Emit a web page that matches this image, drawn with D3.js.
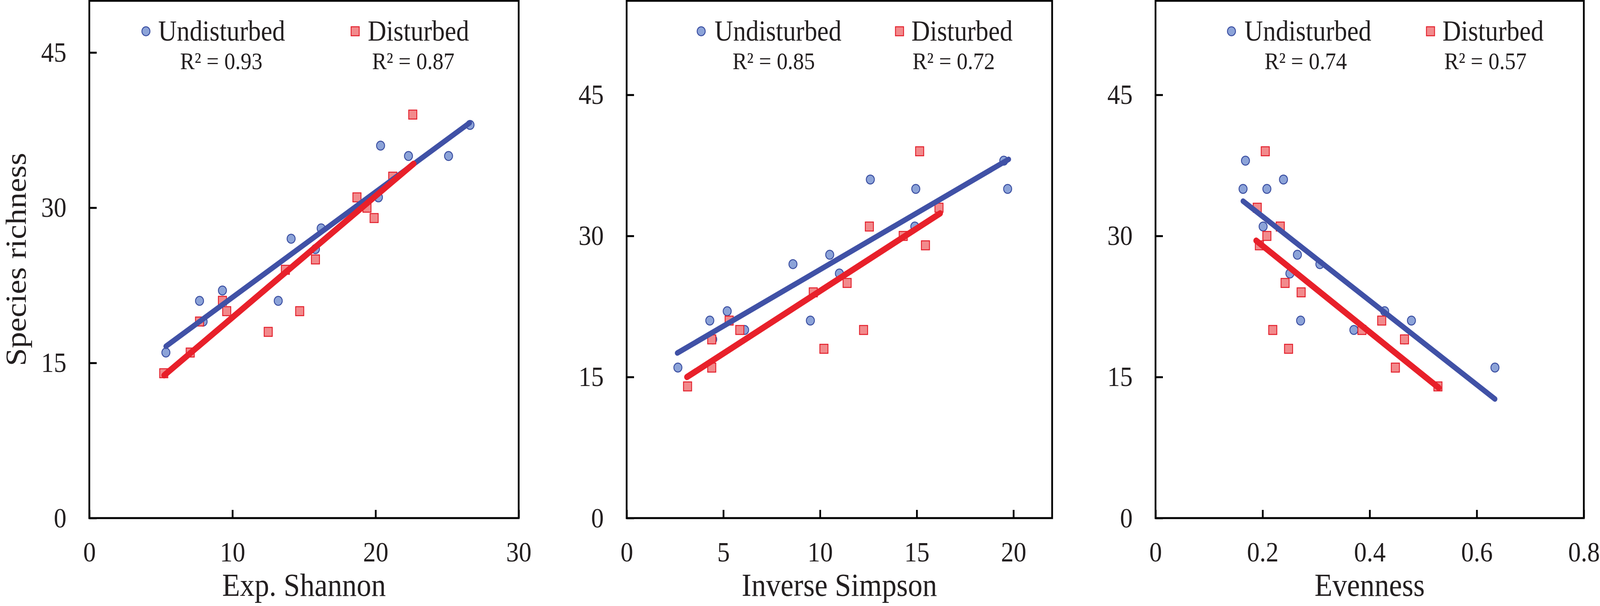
<!DOCTYPE html>
<html>
<head>
<meta charset="utf-8">
<script src="https://cdn.jsdelivr.net/npm/d3@7"></script>
<style>
  html, body { margin: 0; padding: 0; background: #fff; width: 100%; height: 100%; overflow: hidden; }
  svg { display: block; width: 100vw; height: 100vh; }
</style>
</head>
<body>
<div id="chart"></div>
<script>
// ---------------- DATA ----------------
const xTitles = ["Exp. Shannon", "Inverse Simpson", "Evenness"];
const yTitle = "Species richness";
const seriesNames = ["Undisturbed", "Disturbed"];

const xDomains = [[0, 30], [0, 22], [0, 0.8]];
const yDomains = [[0, 50], [0, 55], [0, 55]];
const xTicks = [[0, 10, 20, 30], [0, 5, 10, 15, 20], [0, 0.2, 0.4, 0.6, 0.8]];
const yTicks = [0, 15, 30, 45];

const undisturbedShannon = [[5.35,16],[7.7,21],[7.95,19],[9.3,22],[9.6,20],[13.2,21],[14.1,27],[15.8,26],[16.2,28],[20.35,36],[20.2,31],[22.3,35],[25.1,35],[26.6,38]];
const disturbedShannon   = [[5.2,14],[7.05,16],[7.7,19],[9.3,21],[9.6,20],[12.5,18],[13.7,24],[14.7,20],[15.8,25],[18.7,31],[19.4,30],[19.9,29],[21.2,33],[22.6,39]];

const undisturbedSimpson = [[2.65,16],[4.3,21],[4.45,19],[5.2,22],[6.1,20],[8.6,27],[9.5,21],[10.5,28],[11.0,26],[12.6,36],[14.95,35],[14.9,31],[19.5,38],[19.7,35]];
const disturbedSimpson   = [[3.15,14],[4.4,16],[4.4,19],[5.3,21],[5.85,20],[9.65,24],[10.2,18],[11.4,25],[12.25,20],[12.55,31],[14.3,30],[15.15,39],[15.45,29],[16.15,33]];

const undisturbedEvenness = [[0.168,38],[0.1635,35],[0.208,35],[0.239,36],[0.201,31],[0.265,28],[0.307,27],[0.251,26],[0.271,21],[0.428,22],[0.478,21],[0.3705,20],[0.465,19],[0.634,16]];
const disturbedEvenness   = [[0.205,39],[0.19,33],[0.233,31],[0.208,30],[0.194,29],[0.242,25],[0.272,24],[0.219,20],[0.2485,18],[0.3855,20],[0.4225,21],[0.465,19],[0.448,16],[0.5275,14]];

// regression line end points
const fitUndisturbed = [[[5.35,16.6],[26.57,38.2]], [[2.62,17.55],[19.75,38.14]], [[0.1635,33.7],[0.634,12.66]]];
const fitDisturbed   = [[[5.23,13.8],[22.66,34.25]], [[3.12,15.0],[16.21,32.4]], [[0.188,29.5],[0.529,13.85]]];

const r2Undisturbed = ["0.93", "0.85", "0.74"];
const r2Disturbed   = ["0.87", "0.72", "0.57"];

// ---------------- LAYOUT / STYLE ----------------
const W = 4550, H = 1551;
const FONT = "'Liberation Serif', 'Times New Roman', Times, serif";
const TXT = "#231f20";
const BLUE_FILL = "#8ca3d8", BLUE_STROKE = "#3b4fa2", BLUE_LINE = "#4051a6";
const RED_FILL = "#f28a8c", RED_STROKE = "#e31e2a", RED_LINE = "#e8202a";

const panelLeft = [254, 1782, 3286];
const panelRight = [1475, 2992, 4504];
const plotTop = 2, plotBottom = 1326;

const legCircle = [161, 212, 216];
const legUText = [196, 250, 253];
const legUR2 = [258, 301, 310];
const legSquare = [756, 776, 782];
const legDText = [792, 810, 816];
const legDR2 = [804, 813, 821];

const undisturbed = [undisturbedShannon, undisturbedSimpson, undisturbedEvenness];
const disturbed = [disturbedShannon, disturbedSimpson, disturbedEvenness];

// the drawing is laid out in the reference's 4550x1551 frame and fitted to the window
const svg = d3.select("#chart").append("svg")
  .attr("viewBox", `0 0 ${W} ${H}`)
  .attr("preserveAspectRatio", "none");
svg.append("rect").attr("width", W).attr("height", H).attr("fill", "#fff");

const MR = 11.5, MS = 23;

for (let p = 0; p < 3; p++) {
  const L = panelLeft[p], Rt = panelRight[p];
  const x = d3.scaleLinear().domain(xDomains[p]).range([L, Rt]);
  const y = d3.scaleLinear().domain(yDomains[p]).range([plotBottom, plotTop]);
  const g = svg.append("g");

  // axes
  const xAxis = d3.axisBottom(x).tickValues(xTicks[p]).tickFormat(d => String(d))
    .tickSizeInner(-21).tickSizeOuter(0).tickPadding(60);
  const yAxis = d3.axisLeft(y).tickValues(yTicks).tickFormat(d => String(d))
    .tickSizeInner(-21).tickSizeOuter(0).tickPadding(65);

  const gx = g.append("g").attr("transform", `translate(0,${plotBottom})`).call(xAxis);
  const gy = g.append("g").attr("transform", `translate(${L},0)`).call(yAxis);
  [gx, gy].forEach(ax => {
    ax.select(".domain").remove();
    ax.selectAll(".tick line").attr("stroke", "#000").attr("stroke-width", 5);
    ax.selectAll(".tick text").attr("fill", TXT).style("font-family", FONT).style("font-size", "72px");
  });

  // points: undisturbed circles, then disturbed squares
  g.append("g").selectAll("circle").data(undisturbed[p]).join("circle")
    .attr("cx", d => x(d[0])).attr("cy", d => y(d[1])).attr("r", MR)
    .attr("fill", BLUE_FILL).attr("stroke", BLUE_STROKE).attr("stroke-width", 2.5);
  g.append("g").selectAll("rect").data(disturbed[p]).join("rect")
    .attr("x", d => x(d[0]) - MS / 2).attr("y", d => y(d[1]) - MS / 2)
    .attr("width", MS).attr("height", MS)
    .attr("fill", RED_FILL).attr("stroke", RED_STROKE).attr("stroke-width", 2.5);

  // fit lines
  const line = d3.line().x(d => x(d[0])).y(d => y(d[1]));
  g.append("path").datum(fitUndisturbed[p]).attr("d", line)
    .attr("fill", "none").attr("stroke", BLUE_LINE).attr("stroke-width", 14).attr("stroke-linecap", "round");
  g.append("path").datum(fitDisturbed[p]).attr("d", line)
    .attr("fill", "none").attr("stroke", RED_LINE).attr("stroke-width", 16).attr("stroke-linecap", "round");

  // frame
  g.append("rect").attr("x", L).attr("y", plotTop).attr("width", Rt - L).attr("height", plotBottom - plotTop)
    .attr("fill", "none").attr("stroke", "#000").attr("stroke-width", 5).attr("stroke-linejoin", "miter");

  // legend
  g.append("circle").attr("cx", L + legCircle[p]).attr("cy", 80).attr("r", MR)
    .attr("fill", BLUE_FILL).attr("stroke", BLUE_STROKE).attr("stroke-width", 2.5);
  g.append("rect").attr("x", L + legSquare[p] - MS / 2).attr("y", 80 - MS / 2).attr("width", MS).attr("height", MS)
    .attr("fill", RED_FILL).attr("stroke", RED_STROKE).attr("stroke-width", 2.5);
  const txt = (tx, ty, s, size) => g.append("text").attr("x", tx).attr("y", ty).text(s)
    .attr("fill", TXT).style("font-family", FONT).style("font-size", size + "px");
  txt(L + legUText[p], 104, seriesNames[0], 73);
  txt(L + legDText[p], 104, seriesNames[1], 73);
  txt(L + legUR2[p], 177, "R\u00B2 = " + r2Undisturbed[p], 62);
  txt(L + legDR2[p], 177, "R\u00B2 = " + r2Disturbed[p], 62);

  // x title
  g.append("text").attr("x", (L + Rt) / 2).attr("y", 1525).attr("text-anchor", "middle")
    .text(xTitles[p]).attr("fill", TXT).style("font-family", FONT).style("font-size", "83px");
}

// y title
svg.append("text").attr("transform", `translate(73,${(plotTop + plotBottom) / 2}) rotate(-90)`)
  .attr("text-anchor", "middle").text(yTitle)
  .attr("fill", TXT).style("font-family", FONT).style("font-size", "83px");
</script>
</body>
</html>
